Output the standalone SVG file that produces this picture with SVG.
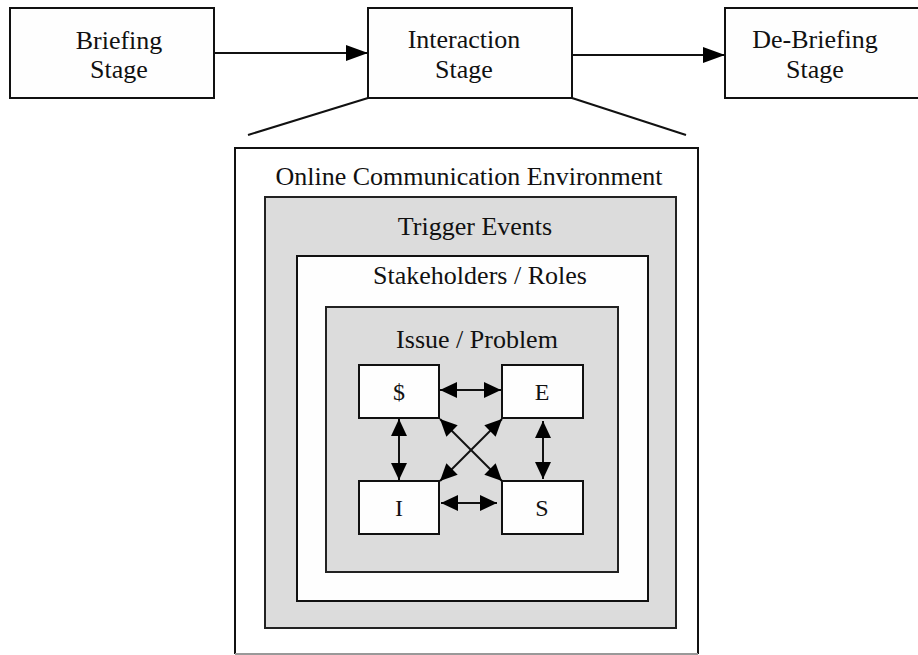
<svg xmlns="http://www.w3.org/2000/svg" width="918" height="655" viewBox="0 0 918 655">
<style>
.box{fill:#fefefe;stroke:#111;stroke-width:2}
.gray{fill:#dcdcdc;stroke:#222;stroke-width:2}
.t{font-family:"Liberation Serif","Times New Roman",serif;font-size:26px;fill:#111;text-anchor:middle}
.s{font-family:"Liberation Serif","Times New Roman",serif;font-size:24px;fill:#111;text-anchor:middle}
.ln{stroke:#111;stroke-width:2;fill:none}
</style>
<defs>
<marker id="big" viewBox="0 0 22 16" refX="22" refY="8" markerWidth="22" markerHeight="16" markerUnits="userSpaceOnUse" orient="auto-start-reverse"><path d="M0,0 L22,8 L0,16 z" fill="#000"/></marker>
<marker id="sm" viewBox="0 0 17 16" refX="17" refY="8" markerWidth="17" markerHeight="16" markerUnits="userSpaceOnUse" orient="auto-start-reverse"><path d="M0,0 L17,8 L0,16 z" fill="#000"/></marker>
</defs>
<rect width="918" height="655" fill="#fff"/>
<g id="briefing"><rect class="box" x="10" y="8" width="204" height="90"/><text class="t" x="119" y="49">Briefing</text><text class="t" x="119" y="78">Stage</text></g>
<g id="interaction"><rect class="box" x="368" y="8" width="204" height="90"/><text class="t" x="464" y="48">Interaction</text><text class="t" x="464" y="78">Stage</text></g>
<g id="debriefing"><rect class="box" x="725" y="8" width="200" height="90"/><text class="t" x="815" y="48">De-Briefing</text><text class="t" x="815" y="78">Stage</text></g>
<g id="environment">
<path d="M235,654 V148 H698 V654" fill="#fff" stroke="#111" stroke-width="2"/>
<line x1="235" y1="654" x2="698" y2="654" stroke="#999" stroke-width="2"/>
<text class="t" x="469" y="185">Online Communication Environment</text></g>
<g id="trigger"><rect class="gray" x="265" y="197" width="411" height="431"/><text class="t" x="475" y="235">Trigger Events</text></g>
<g id="stakeholders"><rect class="box" x="297" y="256" width="351" height="345"/><text class="t" x="480" y="284">Stakeholders / Roles</text></g>
<g id="issue"><rect class="gray" x="326" y="307" width="292" height="265"/><text class="t" x="477" y="348">Issue / Problem</text></g>
<g id="dollar"><rect class="box" x="359" y="365" width="80" height="53"/><text class="s" x="399" y="400">$</text></g>
<g id="e"><rect class="box" x="502" y="365" width="81" height="53"/><text class="s" x="542" y="400">E</text></g>
<g id="i"><rect class="box" x="359" y="481" width="80" height="53"/><text class="s" x="399" y="516">I</text></g>
<g id="s"><rect class="box" x="502" y="481" width="81" height="53"/><text class="s" x="542" y="516">S</text></g>
<g id="connectors">
<line class="ln" x1="214" y1="53" x2="368" y2="53" marker-end="url(#big)"/>
<line class="ln" x1="572" y1="55" x2="725" y2="55" marker-end="url(#big)"/>
<line class="ln" x1="368" y1="98" x2="248" y2="135"/>
<line class="ln" x1="572" y1="98" x2="686" y2="135"/>
<line class="ln" x1="440" y1="390" x2="501" y2="390" marker-start="url(#sm)" marker-end="url(#sm)"/>
<line class="ln" x1="441" y1="503" x2="497" y2="503" marker-start="url(#sm)" marker-end="url(#sm)"/>
<line class="ln" x1="399" y1="419" x2="399" y2="480" marker-start="url(#sm)" marker-end="url(#sm)"/>
<line class="ln" x1="543" y1="421" x2="543" y2="479" marker-start="url(#sm)" marker-end="url(#sm)"/>
<line class="ln" x1="440" y1="419" x2="502" y2="481" marker-start="url(#sm)" marker-end="url(#sm)"/>
<line class="ln" x1="502" y1="419" x2="440" y2="481" marker-start="url(#sm)" marker-end="url(#sm)"/>
</g>
</svg>
